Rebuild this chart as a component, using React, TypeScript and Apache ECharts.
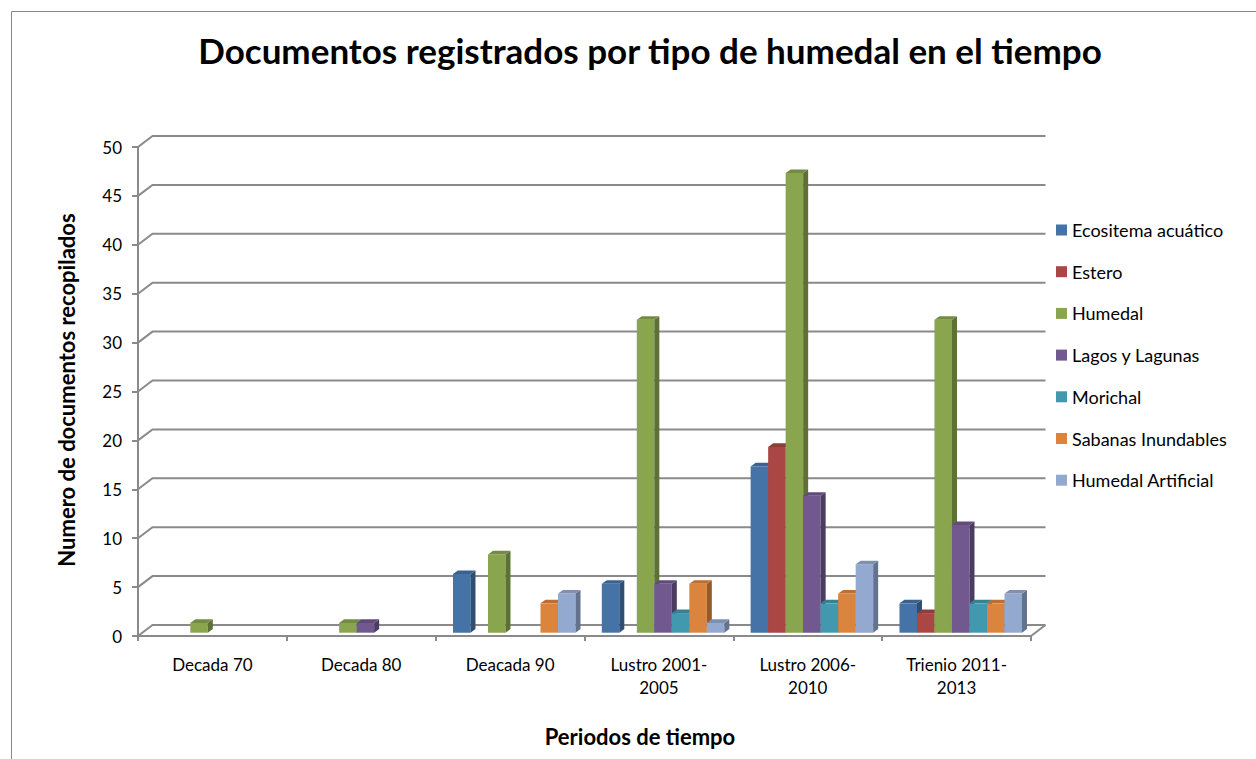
import React, { useEffect, useRef } from "react";
import * as echarts from "echarts";

const categories = [
  "Decada 70",
  "Decada 80",
  "Deacada 90",
  "Lustro 2001-\n2005",
  "Lustro 2006-\n2010",
  "Trienio 2011-\n2013",
];
const seriesNames = [
  "Ecositema acuático",
  "Estero",
  "Humedal",
  "Lagos y Lagunas",
  "Morichal",
  "Sabanas Inundables",
  "Humedal Artificial",
];
const ecositemaAcuatico = [0, 0, 6, 5, 17, 3];
const estero = [0, 0, 0, 0, 19, 2];
const humedal = [1, 1, 8, 32, 47, 32];
const lagosYLagunas = [0, 1, 0, 5, 14, 11];
const morichal = [0, 0, 0, 2, 3, 3];
const sabanasInundables = [0, 0, 3, 5, 4, 3];
const humedalArtificial = [0, 0, 4, 1, 7, 4];
const yTicks = [0, 5, 10, 15, 20, 25, 30, 35, 40, 45, 50];

const seriesValues = [
  ecositemaAcuatico,
  estero,
  humedal,
  lagosYLagunas,
  morichal,
  sabanasInundables,
  humedalArtificial,
];
const colors = ["#4572A7", "#AA4643", "#89A54E", "#71588F", "#4198AF", "#DB843D", "#93A9CF"];

const FONT = "Lato";
const GRID_COLOR = "#8a8a8a";
const DEPTH_DX = 14.5;
const DEPTH_DY = -11;
const BAR_DX = 5;
const BAR_DY = -3.6;
const BAR_SHIFT_Y = -3.3;
const SLOT = 17.5 / 148.8;
const GROUP_OFFSET = 17.3 / 148.8;

function shade(hex: string, f: number) {
  const n = parseInt(hex.slice(1), 16);
  const r = Math.round(((n >> 16) & 255) * f);
  const g = Math.round(((n >> 8) & 255) * f);
  const b = Math.round((n & 255) * f);
  return `rgb(${r},${g},${b})`;
}

export default function App() {
  const ref = useRef<HTMLDivElement>(null);
  useEffect(() => {
    if (!ref.current) return;
    const chart = echarts.init(ref.current, undefined, { renderer: "svg" });

    const gridSeries: any = {
      type: "custom",
      name: "__grid",
      silent: true,
      z: 1,
      clip: false,
      data: yTicks.map((v) => [0, v]),
      encode: { x: 0, y: 1 },
      renderItem: (params: any, api: any) => {
        const cs = params.coordSys;
        const y = api.coord([0, api.value(1)])[1];
        const x0 = cs.x;
        const x1 = cs.x + cs.width;
        const children: any[] = [
          {
            type: "polyline",
            shape: {
              points: [
                [x0, y],
                [x0 + DEPTH_DX, y + DEPTH_DY],
                [x1 + DEPTH_DX, y + DEPTH_DY],
              ],
            },
            style: { stroke: GRID_COLOR, lineWidth: 2, fill: "none" },
          },
        ];
        if (api.value(1) === 0) {
          children.push({
            type: "line",
            shape: { x1: x1, y1: y, x2: x1 + DEPTH_DX, y2: y + DEPTH_DY },
            style: { stroke: GRID_COLOR, lineWidth: 2 },
          });
        }
        return { type: "group", children };
      },
    };

    const barSeries = seriesNames.map((name, s) => {
      const color = colors[s];
      const side = shade(color, 0.68);
      const top = shade(color, 0.85);
      return {
        type: "custom",
        name,
        z: 2,
        clip: false,
        itemStyle: { color },
        data: categories.map((_, i) => [i, seriesValues[s][i]]),
        encode: { x: 0, y: 1 },
        renderItem: (params: any, api: any) => {
          const ci = api.value(0);
          const v = api.value(1);
          if (!v) return null;
          const base = api.coord([ci, 0]);
          const tp = api.coord([ci, v]);
          const band = api.size([1, 0])[0];
          const w = band * SLOT;
          const x = base[0] - band / 2 + band * GROUP_OFFSET + s * w;
          const yb = base[1] + BAR_SHIFT_Y;
          const yt = tp[1] + BAR_SHIFT_Y;
          return {
            type: "group",
            children: [
              {
                type: "rect",
                shape: { x, y: yt, width: w, height: yb - yt },
                style: { fill: color },
              },
              {
                type: "polygon",
                shape: {
                  points: [
                    [x + w, yb],
                    [x + w + BAR_DX, yb + BAR_DY],
                    [x + w + BAR_DX, yt + BAR_DY],
                    [x + w, yt],
                  ],
                },
                style: { fill: side },
              },
              {
                type: "polygon",
                shape: {
                  points: [
                    [x, yt],
                    [x + BAR_DX, yt + BAR_DY],
                    [x + w + BAR_DX, yt + BAR_DY],
                    [x + w, yt],
                  ],
                },
                style: { fill: top },
              },
            ],
          };
        },
      };
    });

    chart.setOption({
      animation: false,
      backgroundColor: "#ffffff",
      textStyle: { fontFamily: FONT },
      grid: { left: 138, top: 147, width: 893, height: 489, containLabel: false },
      legend: {
        orient: "vertical",
        left: 1051,
        top: 216,
        itemWidth: 11,
        itemHeight: 11,
        itemGap: 23.7,
        icon: "rect",
        data: seriesNames,
        textStyle: { fontFamily: FONT, fontSize: 18, color: "#000", lineHeight: 17 },
        selectedMode: false,
      },
      xAxis: {
        type: "category",
        data: categories,
        axisLine: { show: true, lineStyle: { color: GRID_COLOR, width: 2 } },
        axisTick: { show: true, length: 5, lineStyle: { color: GRID_COLOR, width: 2 } },
        axisLabel: {
          fontFamily: FONT,
          fontSize: 17,
          color: "#000",
          margin: 17,
          lineHeight: 23,
          interval: 0,
        },
        splitLine: { show: false },
      },
      yAxis: {
        type: "value",
        min: 0,
        max: 50,
        interval: 5,
        axisLine: { show: true, lineStyle: { color: GRID_COLOR, width: 2 } },
        axisTick: { show: true, length: 6, lineStyle: { color: GRID_COLOR, width: 2 } },
        axisLabel: { fontFamily: FONT, fontSize: 17, color: "#000", margin: 16 },
        splitLine: { show: false },
      },
      graphic: [
        {
          type: "rect",
          left: 9,
          top: 9,
          shape: { width: 1400, height: 900 },
          style: { fill: "none", stroke: "#888888", lineWidth: 1 },
          silent: true,
          z: -1,
        },
        {
          type: "text",
          x: 650,
          y: 50,
          style: {
            text: "Documentos registrados por tipo de humedal en el tiempo",
            font: `bold 35px ${FONT}`,
            fill: "#000",
            align: "center",
            verticalAlign: "middle",
          },
        },
        {
          type: "text",
          x: 66,
          y: 390,
          rotation: Math.PI / 2,
          style: {
            text: "Numero de documentos recopilados",
            font: `bold 22px ${FONT}`,
            fill: "#000",
            align: "center",
            verticalAlign: "middle",
          },
        },
        {
          type: "text",
          x: 640,
          y: 736,
          style: {
            text: "Periodos de tiempo",
            font: `bold 22px ${FONT}`,
            fill: "#000",
            align: "center",
            verticalAlign: "middle",
          },
        },
      ],
      series: [gridSeries, ...barSeries],
    });
    return () => chart.dispose();
  }, []);
  return (
    <div
      ref={ref}
      style={{ position: "absolute", left: 0, top: 0, width: 1256, height: 759 }}
    />
  );
}
